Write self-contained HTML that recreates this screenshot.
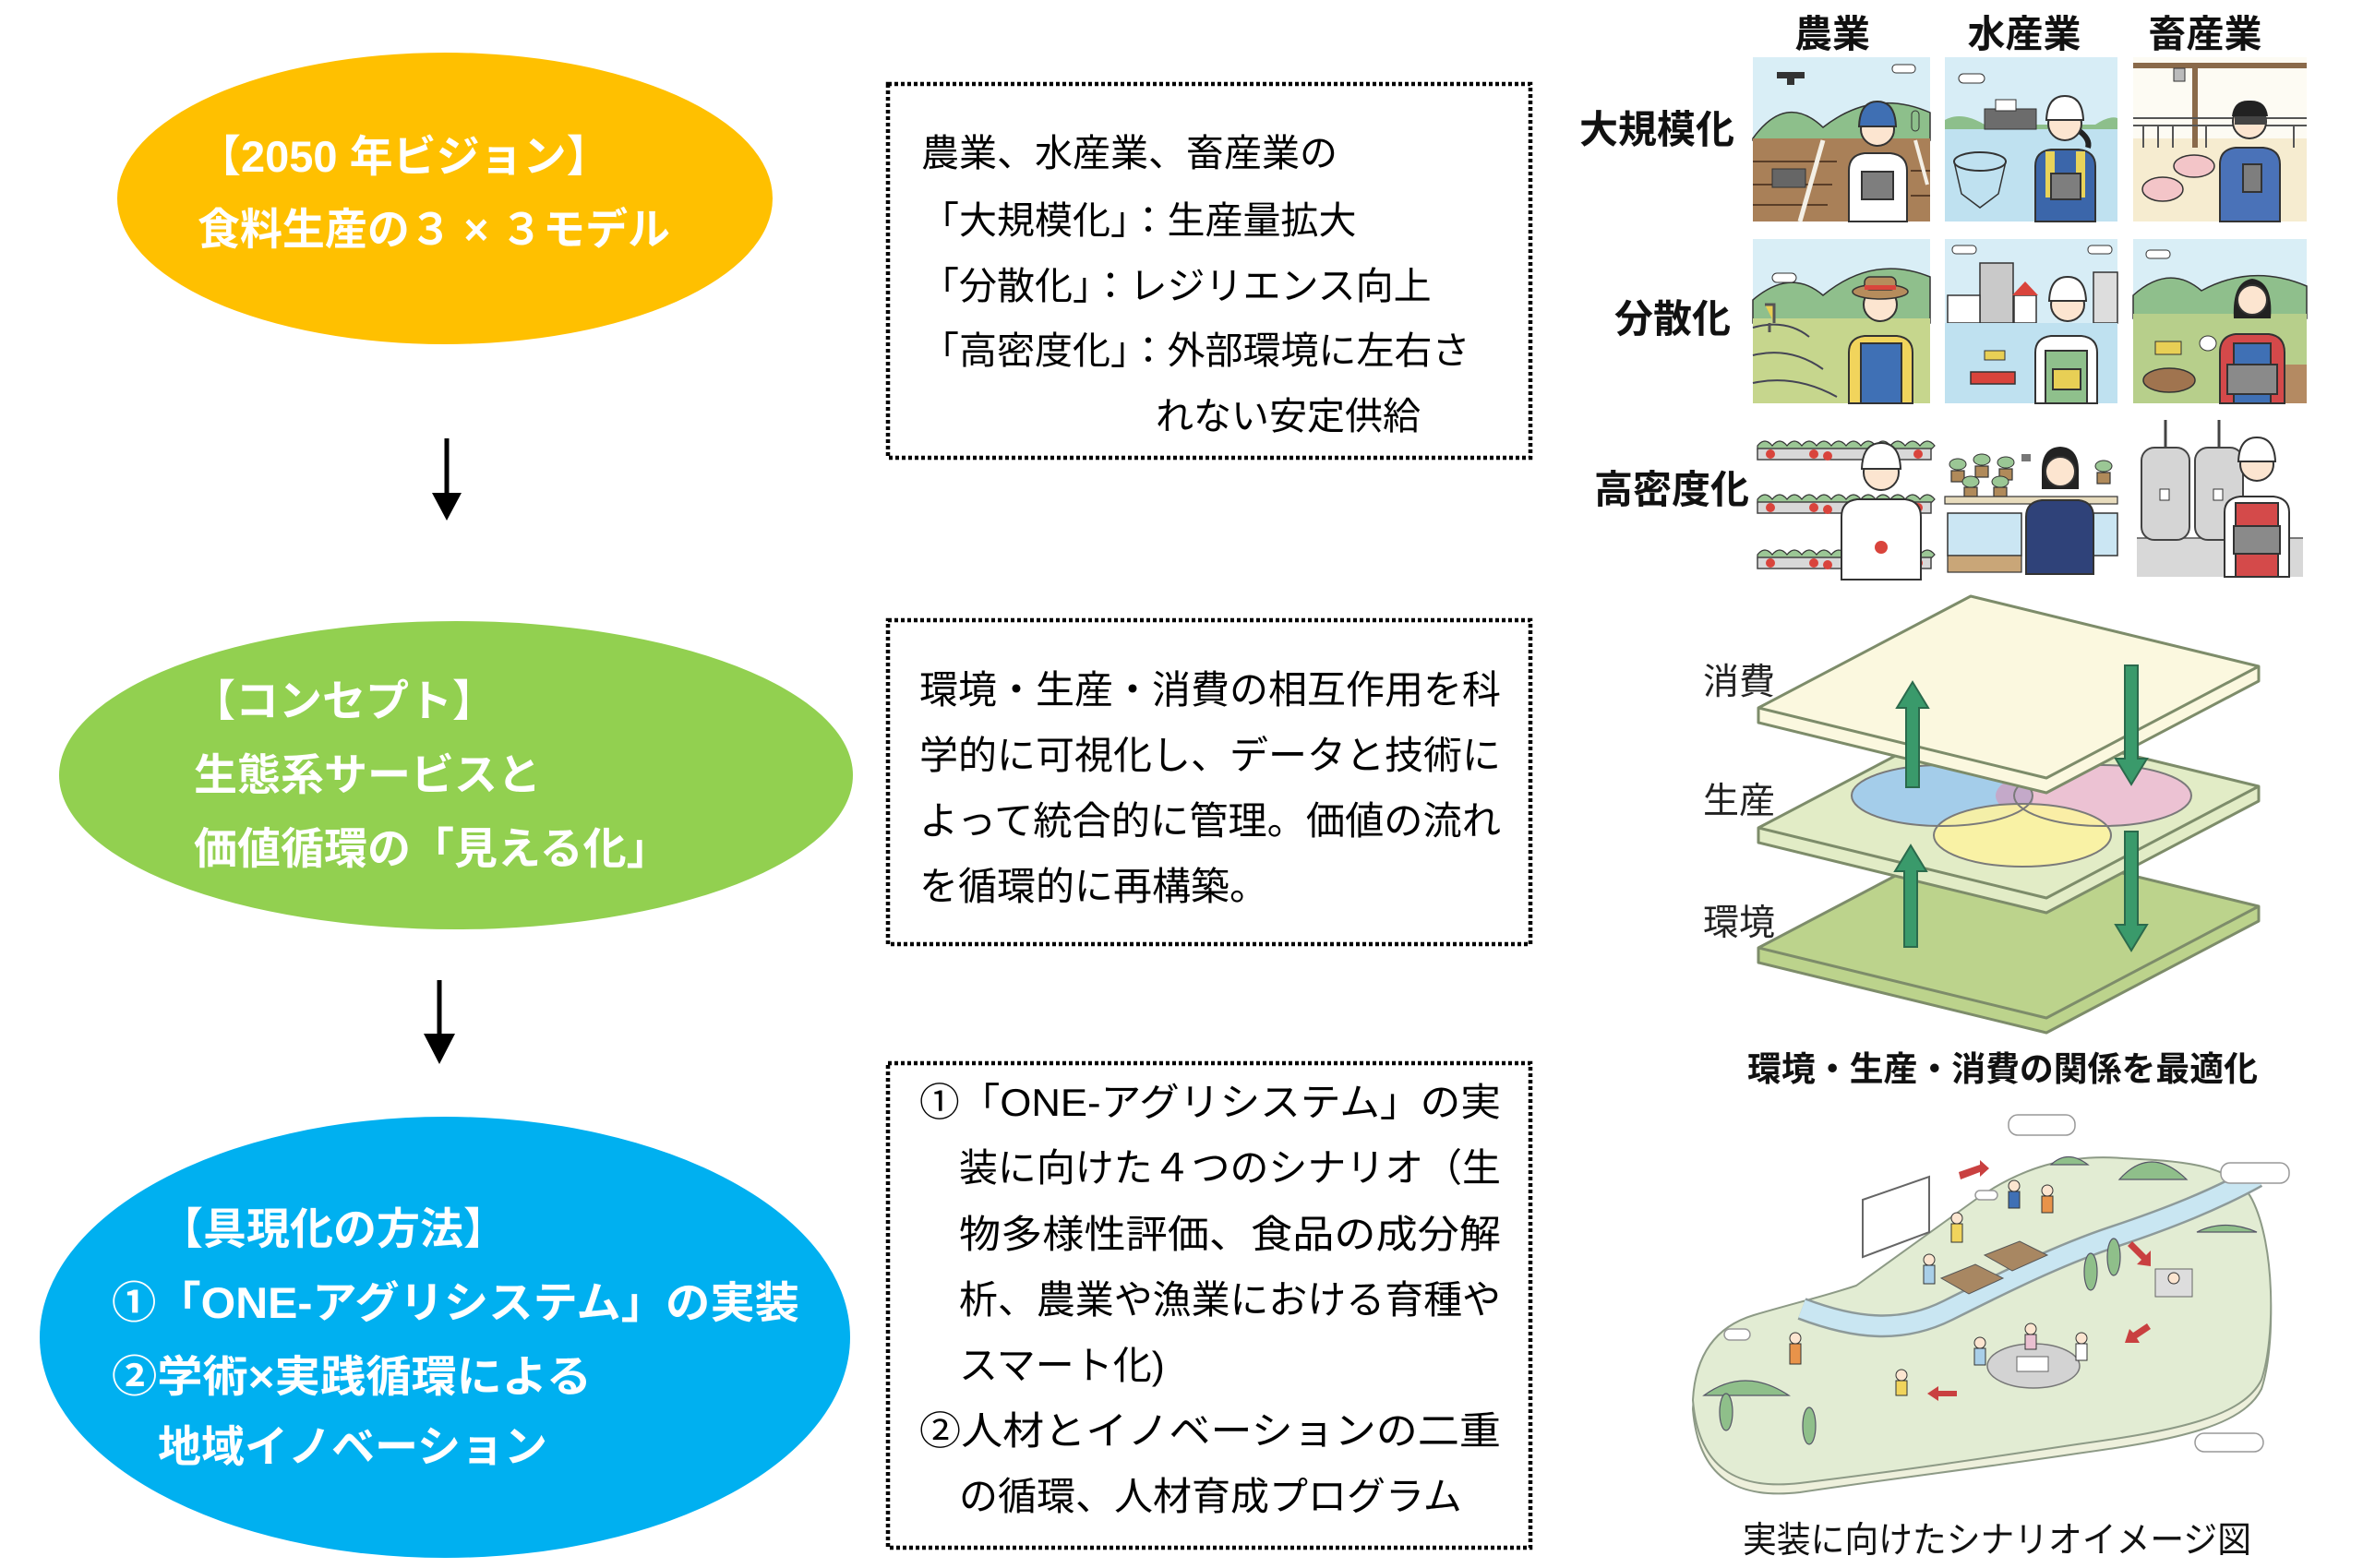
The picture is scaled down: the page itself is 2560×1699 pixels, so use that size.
<!DOCTYPE html>
<html><head><meta charset="utf-8">
<style>
html,body{margin:0;padding:0;background:#fff;}
svg{display:block;}
text{font-family:"Liberation Sans","Noto Sans CJK JP",sans-serif;}
.b{font-weight:bold;}
</style></head><body>
<svg width="2560" height="1699" viewBox="0 0 2560 1699" xmlns="http://www.w3.org/2000/svg">
<rect width="2560" height="1699" fill="#fff"/>

<!-- ===== Ellipses ===== -->
<ellipse cx="482" cy="215" rx="355" ry="158" fill="#FFC000"/>
<ellipse cx="494" cy="840" rx="430" ry="167" fill="#92D050"/>
<ellipse cx="482" cy="1449" rx="439" ry="239" fill="#00B0F0"/>

<g class="b" fill="#fff" font-size="47">
<text x="214" y="186">【2050 年ビジョン】</text>
<text x="214" y="265" textLength="512" lengthAdjust="spacingAndGlyphs">食料生産の３ × ３モデル</text>

<text x="208" y="776">【コンセプト】</text>
<text x="210" y="856">生態系サービスと</text>
<text x="210" y="936">価値循環の「見える化」</text>

<text x="173" y="1348">【具現化の方法】</text>
<text x="121" y="1428" textLength="745" lengthAdjust="spacingAndGlyphs">①「ONE-アグリシステム」の実装</text>
<text x="121" y="1508" textLength="520" lengthAdjust="spacingAndGlyphs">②学術×実践循環による</text>
<text x="171" y="1584">地域イノベーション</text>
</g>

<!-- ===== Arrows ===== -->
<line x1="484" y1="475" x2="484" y2="540" stroke="#000" stroke-width="5"/>
<polygon points="468,534 500,534 484,564" fill="#000"/>
<line x1="476" y1="1062" x2="476" y2="1125" stroke="#000" stroke-width="5"/>
<polygon points="459,1120 493,1120 476,1153" fill="#000"/>

<!-- ===== Dotted boxes ===== -->
<g fill="none" stroke="#000" stroke-width="4.5" stroke-dasharray="4 3">
<rect x="962" y="91" width="696" height="405"/>
<rect x="962" y="672" width="696" height="351"/>
<rect x="962" y="1152" width="696" height="525"/>
</g>

<g fill="#000" font-size="41">
<text x="998" y="180">農業、水産業、畜産業の</text>
<text x="998" y="253">「大規模化」：生産量拡大</text>
<text x="998" y="324">「分散化」：レジリエンス向上</text>
<text x="998" y="394">「高密度化」：外部環境に左右さ</text>
<text x="1252" y="465">れない安定供給</text>
</g>

<g fill="#000" font-size="42">
<text x="996" y="762" textLength="630" lengthAdjust="spacingAndGlyphs">環境・生産・消費の相互作用を科</text>
<text x="996" y="833" textLength="630" lengthAdjust="spacingAndGlyphs">学的に可視化し、データと技術に</text>
<text x="996" y="904" textLength="630" lengthAdjust="spacingAndGlyphs">よって統合的に管理。価値の流れ</text>
<text x="996" y="975">を循環的に再構築。</text>

<text x="996" y="1209" textLength="630" lengthAdjust="spacingAndGlyphs">①「ONE-アグリシステム」の実</text>
<text x="1039" y="1280" textLength="587" lengthAdjust="spacingAndGlyphs">装に向けた４つのシナリオ（生</text>
<text x="1039" y="1352" textLength="587" lengthAdjust="spacingAndGlyphs">物多様性評価、食品の成分解</text>
<text x="1039" y="1423" textLength="587" lengthAdjust="spacingAndGlyphs">析、農業や漁業における育種や</text>
<text x="1039" y="1494">スマート化)</text>
<text x="996" y="1565" textLength="630" lengthAdjust="spacingAndGlyphs">②人材とイノベーションの二重</text>
<text x="1039" y="1636">の循環、人材育成プログラム</text>
</g>

<!-- ===== Right panel headers ===== -->
<g class="b" fill="#111" font-size="41" text-anchor="middle">
<text x="1985" y="51">農業</text>
<text x="2193" y="51">水産業</text>
<text x="2389" y="51">畜産業</text>
</g>
<g class="b" fill="#111" font-size="42">
<text x="1711" y="155">大規模化</text>
<text x="1749" y="360">分散化</text>
<text x="1727" y="545">高密度化</text>
</g>

<!-- Tile 1,1 -->
<g>
<rect x="1899" y="62" width="192" height="178" fill="#d9eef6"/>
<path d="M1899,150 Q1935,100 1975,138 Q2030,95 2091,122 L2091,152 L1899,152Z" fill="#8dbf8b" stroke="#333" stroke-width="1.5"/>
<rect x="1899" y="150" width="192" height="90" fill="#a98058"/>
<g stroke="#5a3e28" stroke-width="2"><line x1="1899" y1="175" x2="1990" y2="175"/><line x1="1899" y1="200" x2="1985" y2="200"/><line x1="1899" y1="222" x2="1980" y2="222"/><line x1="2070" y1="185" x2="2091" y2="185"/><line x1="2070" y1="212" x2="2091" y2="212"/></g>
<path d="M1975,152 L1950,240" stroke="#f4f0e6" stroke-width="5"/>
<path d="M2075,152 L2088,200" stroke="#f4f0e6" stroke-width="4"/>
<rect x="1920" y="183" width="36" height="20" fill="#666" stroke="#333"/>
<rect x="1925" y="78" width="30" height="7" fill="#333"/><rect x="1936" y="84" width="8" height="8" fill="#333"/>
<rect x="2050" y="70" width="25" height="9" rx="4" fill="#fff" stroke="#333"/>
<rect x="2071" y="120" width="8" height="22" rx="4" fill="#8dbf8b" stroke="#333"/>
<path d="M2003,240 L2003,185 Q2003,168 2020,166 L2048,166 Q2066,168 2066,185 L2066,240Z" fill="#fff" stroke="#333" stroke-width="2"/>
<circle cx="2034" cy="140" r="18" fill="#fce5d0" stroke="#333" stroke-width="2"/>
<path d="M2014,137 Q2015,110 2034,110 Q2053,110 2054,137Z" fill="#3f6fb3" stroke="#333" stroke-width="2"/>
<rect x="2017" y="186" width="34" height="30" fill="#7e7e7e" stroke="#333" stroke-width="2"/>
</g>

<!-- Tile 1,2 -->
<g>
<rect x="2107" y="62" width="187" height="178" fill="#d7edf6"/>
<path d="M2107,130 Q2125,120 2150,135 L2270,135 Q2285,125 2294,128 L2294,142 L2107,142Z" fill="#8dbf8b"/>
<rect x="2107" y="140" width="187" height="100" fill="#bfe1f0"/>
<rect x="2150" y="118" width="56" height="22" fill="#6c6c6c" stroke="#333"/>
<rect x="2162" y="108" width="22" height="12" fill="#fff" stroke="#333"/>
<ellipse cx="2145" cy="175" rx="28" ry="10" fill="none" stroke="#333" stroke-width="2"/>
<path d="M2117,175 L2125,210 L2145,225 L2165,210 L2173,175" fill="none" stroke="#333" stroke-width="1.5"/>
<rect x="2122" y="80" width="28" height="10" rx="5" fill="#fff" stroke="#333"/>
<path d="M2205,240 L2205,180 Q2205,164 2222,162 L2252,162 Q2270,164 2270,180 L2270,240Z" fill="#3b66aa" stroke="#333" stroke-width="2"/>
<rect x="2216" y="164" width="10" height="50" fill="#e8d35a"/><rect x="2249" y="164" width="10" height="50" fill="#e8d35a"/>
<rect x="2222" y="188" width="32" height="28" fill="#7e7e7e" stroke="#333" stroke-width="2"/>
<path d="M2250,140 Q2265,150 2262,160" stroke="#222" stroke-width="6" fill="none"/>
<circle cx="2237" cy="134" r="18" fill="#fce5d0" stroke="#333" stroke-width="2"/>
<path d="M2217,130 Q2218,104 2237,104 Q2256,104 2257,130Z" fill="#fff" stroke="#333" stroke-width="2"/>
</g>

<!-- Tile 1,3 -->
<g>
<rect x="2311" y="62" width="188" height="178" fill="#fdfbf3"/>
<rect x="2311" y="150" width="188" height="90" fill="#f6ecd0"/>
<rect x="2311" y="68" width="188" height="6" fill="#8a6a4a"/>
<rect x="2375" y="74" width="6" height="86" fill="#8a6a4a"/>
<rect x="2355" y="74" width="12" height="14" fill="#bbb" stroke="#333"/>
<g stroke="#555" stroke-width="2"><line x1="2311" y1="128" x2="2499" y2="128"/><line x1="2311" y1="136" x2="2499" y2="136"/>
<line x1="2322" y1="136" x2="2322" y2="160"/><line x1="2338" y1="136" x2="2338" y2="160"/><line x1="2354" y1="136" x2="2354" y2="160"/><line x1="2390" y1="136" x2="2390" y2="160"/><line x1="2485" y1="136" x2="2485" y2="160"/></g>
<ellipse cx="2377" cy="180" rx="22" ry="12" fill="#f3c5c8" stroke="#333" stroke-width="1.5"/>
<ellipse cx="2343" cy="205" rx="22" ry="13" fill="#f3c5c8" stroke="#333" stroke-width="1.5"/>
<path d="M2405,240 L2405,178 Q2405,162 2422,160 L2452,160 Q2470,162 2470,178 L2470,240Z" fill="#4a72b8" stroke="#333" stroke-width="2"/>
<rect x="2430" y="178" width="20" height="30" fill="#7e7e7e" stroke="#333" stroke-width="2"/>
<circle cx="2437" cy="132" r="18" fill="#fce5d0" stroke="#333" stroke-width="2"/>
<path d="M2418,126 Q2420,108 2437,109 Q2455,108 2457,126 Z" fill="#222"/>
<rect x="2421" y="126" width="34" height="9" fill="#444"/>
</g>

<!-- Tile 2,1 -->
<g>
<rect x="1899" y="259" width="192" height="178" fill="#d9eef6"/>
<path d="M1899,325 Q1940,290 1975,320 Q2030,275 2091,300 L2091,350 L1899,350Z" fill="#8fbf8c" stroke="#333" stroke-width="1.5"/>
<rect x="1899" y="345" width="192" height="92" fill="#c6d68d"/>
<path d="M1899,355 Q1935,345 1960,365 M1899,385 Q1940,375 1975,400 M1899,415 Q1945,405 1990,430" stroke="#445" stroke-width="2" fill="none"/>
<rect x="1920" y="296" width="26" height="10" rx="5" fill="#fff" stroke="#333"/>
<path d="M1912,330 l10,0 l0,20 M1917,350 l0,10" stroke="#555" stroke-width="3" fill="#e8cf55"/>
<path d="M2003,437 L2003,382 Q2003,366 2020,364 L2055,364 Q2072,366 2072,382 L2072,437Z" fill="#f1d45c" stroke="#333" stroke-width="2"/>
<rect x="2016" y="372" width="44" height="65" fill="#3f70b5" stroke="#333" stroke-width="2"/>
<circle cx="2037" cy="330" r="18" fill="#fce5d0" stroke="#333" stroke-width="2"/>
<ellipse cx="2037" cy="316" rx="30" ry="8" fill="#b68c5c" stroke="#333" stroke-width="1.5"/>
<rect x="2020" y="300" width="34" height="14" rx="6" fill="#b68c5c" stroke="#333" stroke-width="1.5"/>
<rect x="2020" y="309" width="34" height="5" fill="#d9443c"/>
</g>

<!-- Tile 2,2 -->
<g>
<rect x="2107" y="259" width="187" height="178" fill="#d7edf6"/>
<rect x="2145" y="285" width="36" height="65" fill="#c9c9c9" stroke="#333" stroke-width="1.5"/>
<rect x="2110" y="320" width="35" height="30" fill="#fff" stroke="#333" stroke-width="1.5"/>
<rect x="2182" y="320" width="24" height="30" fill="#fff" stroke="#333" stroke-width="1.5"/>
<path d="M2180,320 L2194,305 L2208,320Z" fill="#d9443c"/>
<rect x="2268" y="295" width="26" height="55" fill="#ddd" stroke="#333" stroke-width="1.5"/>
<rect x="2107" y="350" width="187" height="87" fill="#bfe1f0"/>
<rect x="2135" y="403" width="48" height="13" fill="#d9443c" stroke="#333" stroke-width="1.5"/>
<rect x="2150" y="380" width="22" height="10" fill="#e8cf55" stroke="#333"/>
<rect x="2115" y="266" width="26" height="9" rx="4" fill="#fff" stroke="#333"/>
<rect x="2262" y="266" width="26" height="9" rx="4" fill="#fff" stroke="#333"/>
<path d="M2205,437 L2205,382 Q2205,366 2222,364 L2255,364 Q2272,366 2272,382 L2272,437Z" fill="#fff" stroke="#333" stroke-width="2"/>
<rect x="2216" y="380" width="45" height="57" fill="#8fc08c" stroke="#333" stroke-width="2"/>
<rect x="2224" y="400" width="30" height="22" fill="#e8cf55" stroke="#333" stroke-width="2"/>
<circle cx="2240" cy="330" r="18" fill="#fce5d0" stroke="#333" stroke-width="2"/>
<path d="M2220,326 Q2221,300 2240,300 Q2259,300 2260,326Z" fill="#fff" stroke="#333" stroke-width="2"/>
</g>

<!-- Tile 2,3 -->
<g>
<rect x="2311" y="259" width="188" height="178" fill="#d9eef6"/>
<path d="M2311,320 Q2350,285 2385,315 Q2440,285 2499,310 L2499,345 L2311,345Z" fill="#8fbf8c" stroke="#333" stroke-width="1.5"/>
<rect x="2311" y="340" width="188" height="97" fill="#b7cf8b"/>
<path d="M2430,437 L2445,395 L2499,395 L2499,437Z" fill="#b48a62"/>
<rect x="2325" y="271" width="26" height="9" rx="4" fill="#fff" stroke="#333"/>
<ellipse cx="2350" cy="412" rx="28" ry="13" fill="#a0744f" stroke="#333" stroke-width="1.5"/>
<rect x="2335" y="370" width="28" height="14" fill="#e8cf55" stroke="#333"/>
<ellipse cx="2392" cy="372" rx="9" ry="8" fill="#fff" stroke="#333"/>
<path d="M2405,437 L2405,382 Q2405,364 2422,362 L2458,362 Q2475,364 2475,382 L2475,437Z" fill="#d4494a" stroke="#333" stroke-width="2"/>
<rect x="2420" y="372" width="40" height="65" fill="#3f70b5" stroke="#333" stroke-width="2"/>
<rect x="2413" y="395" width="54" height="32" fill="#8a8a8a" stroke="#333" stroke-width="2"/>
<path d="M2420,345 Q2418,305 2440,302 Q2463,305 2460,345Z" fill="#222"/>
<circle cx="2440" cy="325" r="16" fill="#fce5d0" stroke="#333" stroke-width="2"/>
</g>

<!-- Tile 3,1 -->
<g>
<g id="shelf1">
<path d="M1904,483 q8,-10 16,0 q8,-10 16,0 q8,-10 16,0 q8,-10 16,0 q8,-10 16,0 q8,-10 16,0 q8,-10 16,0 q8,-10 16,0 q8,-10 16,0 q8,-10 16,0 q8,-10 16,0 q8,-10 16,0 L2092,487 L1904,487Z" fill="#9bc795" stroke="#333" stroke-width="1.2"/>
<rect x="1904" y="486" width="188" height="12" fill="#d8d8d8" stroke="#444" stroke-width="1.5"/>
<circle cx="1918" cy="492" r="5" fill="#d9443c"/><circle cx="1965" cy="492" r="5" fill="#d9443c"/><circle cx="1980" cy="494" r="5" fill="#d9443c"/><circle cx="2078" cy="492" r="5" fill="#d9443c"/>
</g>
<use href="#shelf1" y="58"/>
<use href="#shelf1" y="118"/>
<path d="M1995,628 L1995,560 Q1995,543 2012,541 L2064,541 Q2081,543 2081,560 L2081,628Z" fill="#fff" stroke="#333" stroke-width="2"/>
<circle cx="2038" cy="593" r="7" fill="#d9443c"/>
<circle cx="2038" cy="512" r="19" fill="#fce5d0" stroke="#333" stroke-width="2"/>
<path d="M2017,508 Q2018,480 2038,480 Q2058,480 2059,508Z" fill="#fff" stroke="#333" stroke-width="2"/>
</g>

<!-- Tile 3,2 -->
<g>
<g fill="#b08a5a" stroke="#333" stroke-width="1.2">
<rect x="2114" y="510" width="14" height="12"/><rect x="2140" y="505" width="14" height="12"/><rect x="2166" y="508" width="14" height="12"/><rect x="2128" y="528" width="14" height="10"/><rect x="2160" y="528" width="14" height="10"/><rect x="2272" y="512" width="14" height="12"/>
</g>
<g fill="#9bc795" stroke="#333" stroke-width="1">
<ellipse cx="2121" cy="503" rx="9" ry="6"/><ellipse cx="2147" cy="498" rx="9" ry="6"/><ellipse cx="2173" cy="501" rx="9" ry="6"/><ellipse cx="2135" cy="522" rx="9" ry="6"/><ellipse cx="2167" cy="522" rx="9" ry="6"/><ellipse cx="2279" cy="505" rx="9" ry="6"/>
</g>
<rect x="2107" y="538" width="187" height="8" fill="#e8dcbd" stroke="#333" stroke-width="1.2"/>
<rect x="2110" y="556" width="80" height="46" fill="#cbe6f3" stroke="#333" stroke-width="1.5"/>
<rect x="2268" y="556" width="26" height="46" fill="#cbe6f3" stroke="#333" stroke-width="1.5"/>
<rect x="2110" y="602" width="80" height="18" fill="#c9a678" stroke="#333" stroke-width="1.2"/>
<rect x="2190" y="492" width="10" height="8" fill="#777"/>
<path d="M2195,622 L2195,560 Q2195,544 2212,542 L2252,542 Q2268,544 2268,560 L2268,622Z" fill="#2f4279" stroke="#333" stroke-width="2"/>
<path d="M2212,510 Q2212,485 2232,484 Q2252,485 2252,510 L2252,530 L2212,530Z" fill="#222"/>
<circle cx="2232" cy="511" r="16" fill="#fce5d0" stroke="#333" stroke-width="2"/>
</g>

<!-- Tile 3,3 -->
<g>
<rect x="2315" y="583" width="180" height="42" fill="#d8d8d8"/>
<line x1="2315" y1="583" x2="2495" y2="583" stroke="#555" stroke-width="1.5"/>
<rect x="2320" y="485" width="52" height="100" rx="14" fill="#d5d5d5" stroke="#444" stroke-width="2"/>
<rect x="2378" y="485" width="52" height="100" rx="14" fill="#d5d5d5" stroke="#444" stroke-width="2"/>
<line x1="2346" y1="455" x2="2346" y2="485" stroke="#444" stroke-width="3"/>
<line x1="2404" y1="455" x2="2404" y2="485" stroke="#444" stroke-width="3"/>
<rect x="2340" y="530" width="10" height="12" fill="#fff" stroke="#333"/><rect x="2398" y="530" width="10" height="12" fill="#fff" stroke="#333"/>
<path d="M2410,625 L2410,555 Q2410,540 2427,538 L2463,538 Q2480,540 2480,555 L2480,625Z" fill="#fff" stroke="#333" stroke-width="2"/>
<rect x="2422" y="545" width="46" height="80" fill="#d44a4a" stroke="#333" stroke-width="2"/>
<rect x="2420" y="570" width="50" height="30" fill="#8a8a8a" stroke="#333" stroke-width="2"/>
<circle cx="2445" cy="503" r="18" fill="#fce5d0" stroke="#333" stroke-width="2"/>
<path d="M2425,500 Q2426,474 2445,474 Q2464,474 2465,500Z" fill="#fff" stroke="#333" stroke-width="2"/>
</g>

<!-- ===== Layer diagram ===== -->
<g stroke="#7d8c6a" stroke-width="3" stroke-linejoin="round">
<polygon points="2135,906 2447,982 2447,998 2217,1119 1905,1043 1905,1027" fill="#bcd38c"/>
<polyline points="1905,1027 2217,1103 2447,982" fill="none"/>
<polygon points="2135,776 2447,852 2447,868 2217,989 1905,913 1905,897" fill="#e2ecc6"/>
<polyline points="1905,897 2217,973 2447,852" fill="none"/>
</g>
<g>
<ellipse cx="2104" cy="862" rx="98" ry="33" fill="#a4cdea"/>
<ellipse cx="2278" cy="862" rx="96" ry="33" fill="#ecc2d3"/>
<path d="M2182,842 A96,33 0 0 1 2202,862 A98,33 0 0 1 2186,884 A96,33 0 0 1 2182,842Z" fill="#c4a9c9"/>
<ellipse cx="2191" cy="905" rx="96" ry="34" fill="#fbf2a2" fill-opacity="0.92"/>
<g fill="none" stroke="#7a7a7a" stroke-width="2">
<ellipse cx="2104" cy="862" rx="98" ry="33"/>
<ellipse cx="2278" cy="862" rx="96" ry="33"/>
<ellipse cx="2191" cy="905" rx="96" ry="34"/>
</g>
</g>
<g stroke="#7d8c6a" stroke-width="3" stroke-linejoin="round">
<polygon points="2135,646 2447,722 2447,738 2217,859 1905,783 1905,767" fill="#fbf8df"/>
<polyline points="1905,767 2217,843 2447,722" fill="none"/>
</g>
<g fill="#3a9a6b" stroke="#2b6a4c" stroke-width="2">
<polygon points="2065,853 2065,767 2055,767 2072,739 2089,767 2079,767 2079,853"/>
<polygon points="2302,721 2302,822 2292,822 2309,850 2326,822 2316,822 2316,721"/>
<polygon points="2063,1026 2063,944 2053,944 2070,916 2087,944 2077,944 2077,1026"/>
<polygon points="2302,901 2302,1002 2292,1002 2309,1030 2326,1002 2316,1002 2316,901"/>
</g>
<g fill="#222" font-size="39">
<text x="1845" y="752">消費</text>
<text x="1845" y="881">生産</text>
<text x="1845" y="1013">環境</text>
</g>
<text x="1893" y="1171" class="b" font-size="37" fill="#111" textLength="553" lengthAdjust="spacingAndGlyphs">環境・生産・消費の関係を最適化</text>

<!-- ===== Island scenario ===== -->
<g>
<path d="M1834,1527 C1836,1490 1850,1450 1900,1435 C1940,1423 1975,1415 2011,1403 L2140,1310 C2190,1275 2240,1260 2300,1265 C2360,1268 2420,1270 2440,1310 C2465,1360 2465,1460 2450,1505 C2430,1545 2360,1560 2250,1575 C2150,1590 2050,1602 1950,1617 C1880,1625 1840,1600 1834,1527 Z" fill="#eef0dc" stroke="#8d9a86" stroke-width="2"/>
<path d="M1834,1517 C1836,1480 1850,1440 1900,1425 C1940,1413 1975,1405 2011,1393 L2140,1300 C2190,1265 2240,1250 2300,1255 C2360,1258 2420,1260 2440,1300 C2465,1350 2465,1450 2450,1495 C2430,1535 2360,1550 2250,1565 C2150,1580 2050,1595 1950,1607 C1880,1615 1840,1590 1834,1517 Z" fill="#e2ecd3" stroke="#8d9a86" stroke-width="2"/>
<path d="M1952,1418 C2010,1440 2060,1445 2110,1420 C2170,1390 2230,1360 2290,1340 C2350,1320 2400,1300 2445,1275" fill="none" stroke="#8d9a9a" stroke-width="25"/>
<path d="M1952,1418 C2010,1440 2060,1445 2110,1420 C2170,1390 2230,1360 2290,1340 C2350,1320 2400,1300 2445,1275" fill="none" stroke="#c9e6f2" stroke-width="20"/>
<g fill="#8fbf8a" stroke="#556" stroke-width="1.2">
<path d="M2296,1278 Q2330,1240 2369,1278Z"/>
<path d="M2222,1262 Q2240,1245 2262,1262Z"/>
<path d="M1846,1512 Q1890,1480 1938,1512Z"/>
<path d="M2380,1335 Q2410,1320 2445,1335Z"/>
<ellipse cx="1870" cy="1530" rx="7" ry="20"/>
<ellipse cx="1960" cy="1545" rx="7" ry="20"/>
<ellipse cx="2265" cy="1378" rx="7" ry="20"/>
<ellipse cx="2290" cy="1362" rx="7" ry="20"/>
</g>
<polygon points="2103,1385 2140,1370 2170,1385 2133,1402" fill="#a88762" stroke="#555"/>
<polygon points="2150,1360 2188,1345 2218,1360 2180,1377" fill="#a88762" stroke="#555"/>
<polygon points="2018,1300 2090,1275 2090,1335 2018,1362" fill="#fff" stroke="#666" stroke-width="2"/>
<ellipse cx="2203" cy="1480" rx="50" ry="24" fill="#d3d3d3" stroke="#777" stroke-width="1.5"/>
<rect x="2185" y="1470" width="34" height="16" fill="#fff" stroke="#666"/>
<rect x="2335" y="1375" width="40" height="30" fill="#ddd" stroke="#666"/>
<g fill="#c94040">
<polygon points="2122,1270 2145,1262 2145,1257 2155,1266 2145,1275 2145,1270 2124,1278"/>
<polygon points="2310,1345 2325,1360 2330,1355 2330,1372 2315,1370 2320,1365 2305,1350"/>
<polygon points="2330,1440 2315,1450 2318,1455 2302,1455 2307,1440 2311,1444 2326,1434"/>
<polygon points="2120,1507 2100,1507 2100,1502 2088,1510 2100,1518 2100,1513 2120,1513"/>
</g>
<g stroke="#333" stroke-width="1">
<circle cx="2120" cy="1320" r="6" fill="#fce5d0"/><rect x="2114" y="1326" width="12" height="20" fill="#f1d45c"/>
<circle cx="2182" cy="1285" r="6" fill="#fce5d0"/><rect x="2176" y="1291" width="12" height="18" fill="#3f70b5"/>
<circle cx="2218" cy="1290" r="6" fill="#fce5d0"/><rect x="2212" y="1296" width="12" height="18" fill="#e8934a"/>
<circle cx="2090" cy="1365" r="6" fill="#fce5d0"/><rect x="2084" y="1371" width="12" height="20" fill="#a9cfe8"/>
<circle cx="1945" cy="1450" r="6" fill="#fce5d0"/><rect x="1939" y="1456" width="12" height="22" fill="#e8934a"/>
<circle cx="2060" cy="1490" r="6" fill="#fce5d0"/><rect x="2054" y="1496" width="12" height="16" fill="#f1d45c"/>
<circle cx="2145" cy="1455" r="6" fill="#fce5d0"/><rect x="2139" y="1461" width="12" height="18" fill="#a9cfe8"/>
<circle cx="2200" cy="1440" r="6" fill="#fce5d0"/><rect x="2194" y="1446" width="12" height="16" fill="#eac0d1"/>
<circle cx="2255" cy="1450" r="6" fill="#fce5d0"/><rect x="2249" y="1456" width="12" height="18" fill="#fff"/>
<circle cx="2355" cy="1385" r="6" fill="#fce5d0"/>
</g>
<g fill="#fff" stroke="#999" stroke-width="1.5">
<rect x="2176" y="1208" width="72" height="22" rx="10"/>
<rect x="2406" y="1260" width="74" height="22" rx="10"/>
<rect x="2378" y="1553" width="74" height="20" rx="10"/>
<rect x="1868" y="1440" width="28" height="12" rx="6"/>
<rect x="2140" y="1290" width="24" height="10" rx="5"/>
</g>
</g>
<text x="1888" y="1682" font-size="39" fill="#111" textLength="551" lengthAdjust="spacingAndGlyphs">実装に向けたシナリオイメージ図</text>

</svg>
</body></html>
